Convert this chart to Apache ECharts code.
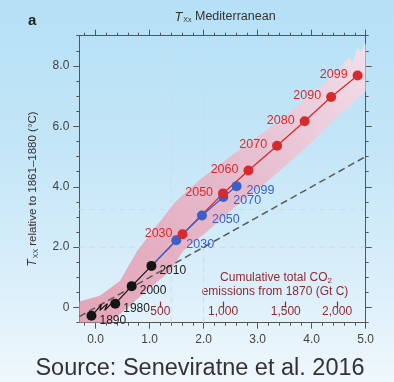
<!DOCTYPE html>
<html><head><meta charset="utf-8">
<script src="https://cdn.jsdelivr.net/npm/echarts@6/dist/echarts.min.js"></script>
<style>
html,body{margin:0;padding:0;}
#c{width:394px;height:382px;background:linear-gradient(180deg,#b5e0f6 0%,#c4e6f7 40%,#dbeffa 75%,#eff7fc 100%);}
</style>
</head><body><div id="c"></div><script>
// ---- data ----
const blackYears = ['1890','1980','2000','2010'];
const blackX = [-0.075, 0.365, 0.67, 1.035];
const blackY = [-0.27, 0.13, 0.71, 1.38];
// squiggle of the historical trace between 1890 and 1980
const blackTraceX = [-0.075, 0.02, 0.11, 0.08, 0.22, 0.17, 0.28, 0.365, 0.67, 1.035];
const blackTraceY = [-0.27, -0.09, 0.11, -0.09, 0.13, -0.09, 0.11, 0.13, 0.71, 1.38];

const redYears = ['2030','2050','2060','2070','2080','2090','2099'];
const redX = [1.61, 2.36, 2.83, 3.36, 3.87, 4.36, 4.85];
const redY = [2.43, 3.78, 4.54, 5.36, 6.17, 6.97, 7.68];

const blueYears = ['2030','2050','2070','2099'];
const blueX = [1.495, 1.97, 2.365, 2.61];
const blueY = [2.23, 3.05, 3.66, 4.02];

const bandUpperX = [-0.3, 0.08, 0.45, 0.77, 1.2, 1.48, 1.94, 2.5, 3.06, 3.62, 4.18, 4.55, 4.7, 4.75, 4.85, 4.9, 5.0];
const bandUpperY = [0.2, 0.39, 0.88, 1.87, 2.87, 3.5, 4.25, 5.01, 5.74, 6.5, 7.33, 8.0, 8.3, 8.1, 8.6, 8.45, 8.75];
const bandLowerX = [-0.3, 0.27, 0.88, 1.38, 1.62, 2.12, 2.69, 3.12, 3.62, 4.06, 4.5, 5.0];
const bandLowerY = [-0.5, -0.5, 0.45, 1.21, 1.87, 2.6, 3.5, 4.08, 4.85, 5.58, 6.35, 7.16];

const refVX = [1.4, 2.0];
const refHY = [2.0, 3.25];
const oneToOneX = [-0.3, 5.0];
const oneToOneY = [-0.3, 5.0];

const xTicks = [0, 1, 2, 3, 4, 5];
const xTickLabels = ['0.0', '1.0', '2.0', '3.0', '4.0', '5.0'];
const yTicks = [0, 2, 4, 6, 8];
const yTickLabels = ['0', '2.0', '4.0', '6.0', '8.0'];
const co2TickX = [1.2, 2.36, 3.52, 4.47];
const co2TickLabels = ['500', '1,000', '1,500', '2,000'];

// ---- chart ----
const X_MIN = -0.3, X_MAX = 5.0, Y_MIN = -0.5, Y_MAX = 9.0;
const minorX = []; for (let i = -1; i <= 25; i++) { const v = +(i * 0.2).toFixed(2); if (v >= X_MIN && v <= X_MAX && Math.abs(v - Math.round(v)) > 1e-6) minorX.push(v); }
const minorY = []; for (let i = -1; i <= 18; i++) { const v = i * 0.5; if (v % 2 !== 0) minorY.push(v); }

const FONT = 'Liberation Sans, Arial, Helvetica, sans-serif';
const AX = '#555';
const RED = '#d72a2e', BLUE = '#3b5fc6', BLK = '#151515', DARKRED = '#8e2a33';

function pickLabel(v, vals, labels) {
  let best = 0; for (let i = 1; i < vals.length; i++) if (Math.abs(vals[i] - v) < Math.abs(vals[best] - v)) best = i;
  return labels[best];
}
function xAx(pos, ticks, len, showLabel, showLine) {
  return {
    type: 'value', min: X_MIN, max: X_MAX, position: pos, gridIndex: 0,
    axisLine: { show: showLine, onZero: false, lineStyle: { color: AX, width: 1 } },
    axisTick: { show: true, customValues: ticks, length: len, inside: false, lineStyle: { color: AX, width: 1 } },
    axisLabel: showLabel ? { show: true, customValues: ticks, formatter: v => pickLabel(v, xTicks, xTickLabels), color: '#444', fontSize: 12, fontFamily: FONT, margin: 11 } : { show: false },
    splitLine: { show: false }
  };
}
function yAx(pos, ticks, len, showLabel, showLine) {
  return {
    type: 'value', min: Y_MIN, max: Y_MAX, position: pos, gridIndex: 0,
    axisLine: { show: showLine, onZero: false, lineStyle: { color: AX, width: 1 } },
    axisTick: { show: true, customValues: ticks, length: len, inside: false, lineStyle: { color: AX, width: 1 } },
    axisLabel: showLabel ? { show: true, customValues: ticks, formatter: v => pickLabel(v, yTicks, yTickLabels), color: '#444', fontSize: 12, fontFamily: FONT, margin: 10 } : { show: false },
    splitLine: { show: false }
  };
}

const zip = (a, b) => a.map((v, i) => [v, b[i]]);
const chart = echarts.init(document.getElementById('c'), null, { renderer: 'canvas' });

const scat = (xs, ys, names, color, pos, dist, off, size, z, fs) => ({
  type: 'scatter', xAxisIndex: 0, yAxisIndex: 0, symbolSize: size, z: z,
  itemStyle: { color: color, opacity: 1 },
  data: xs.map((x, i) => ({ value: [x, ys[i]], name: names[i] })),
  label: { show: true, position: pos, distance: dist, offset: off, formatter: p => p.name, color: color === BLK ? '#222' : color, fontSize: fs, fontFamily: FONT },
  emphasis: { disabled: true }, silent: true
});
const line = (data, color, width, type, z) => ({
  type: 'line', xAxisIndex: 0, yAxisIndex: 0, data: data, symbol: 'none', z: z, silent: true,
  lineStyle: { color: color, width: width, type: type }, emphasis: { disabled: true }
});

const series = [
  {
    type: 'custom', xAxisIndex: 0, yAxisIndex: 0, z: 1, silent: true, clip: true,
    data: [[0, 0]],
    renderItem: (params, api) => {
      const pts = zip(bandUpperX, bandUpperY).concat(zip(bandLowerX, bandLowerY).reverse()).map(p => api.coord(p));
      return {
        type: 'polygon', shape: { points: pts },
        style: { fill: new echarts.graphic.LinearGradient(0, 1, 1, 0, [
          { offset: 0, color: 'rgba(228,150,170,0.85)' },
          { offset: 0.5, color: 'rgba(236,172,190,0.78)' },
          { offset: 1, color: 'rgba(252,222,232,0.85)' }]) }
      };
    }
  }
];
refVX.forEach(x => series.push(line([[x, Y_MIN], [x, Y_MAX]], '#d8d8d8', 1, [6, 4], 0)));
refHY.forEach(y => series.push(line([[X_MIN, y], [X_MAX, y]], '#d8d8d8', 1, [6, 4], 0)));
series.push(line(zip(oneToOneX, oneToOneY), '#5a5a5a', 1.5, [7, 4], 3));
series.push(line(zip(blackTraceX, blackTraceY), BLK, 1.2, 'solid', 4));
series.push(line([[blackX[3], blackY[3]]].concat(zip(redX, redY)), RED, 1.3, 'solid', 4));
series.push(line([[blackX[3], blackY[3]]].concat(zip(blueX, blueY)), BLUE, 1.3, 'solid', 4));
series.push(scat(blackX, blackY, blackYears, BLK, 'right', 3, [0, 5], 10, 6, 12));
series.push(scat(blueX, blueY, blueYears, BLUE, 'right', 5, [0, 4], 10, 6, 12.5));
series.push(scat(redX, redY, redYears, RED, 'left', 5, [0, -1], 10, 6, 12.5));

chart.setOption({
  animation: false,
  backgroundColor: 'transparent',
  textStyle: { fontFamily: FONT },
  grid: { left: 79.3, right: 28.3, top: 35.7, bottom: 59.3, containLabel: false },
  xAxis: [
    xAx('bottom', xTicks, 6, true, true),
    xAx('bottom', minorX, 3, false, false),
    xAx('top', xTicks, 6, false, true),
    xAx('top', minorX, 3, false, false),
    {
      type: 'value', min: X_MIN, max: X_MAX, position: 'bottom', gridIndex: 0,
      axisLine: { show: false },
      axisTick: { show: true, inside: true, customValues: co2TickX, length: 6, lineStyle: { color: DARKRED, width: 1.2 } },
      axisLabel: { show: true, inside: true, customValues: co2TickX, formatter: v => pickLabel(v, co2TickX, co2TickLabels), color: DARKRED, fontSize: 12, fontFamily: FONT, margin: 5 },
      splitLine: { show: false }
    }
  ],
  yAxis: [
    yAx('left', yTicks, 6, true, true),
    yAx('left', minorY, 3, false, false),
    yAx('right', yTicks, 6, false, true),
    yAx('right', minorY, 3, false, false)
  ],
  graphic: [
    { type: 'text', left: 28, top: 13, style: { text: 'a', font: 'bold 15px ' + FONT, fill: '#222' } },
    { type: 'text', x: 225, y: 17, style: {
        text: '{t|T}{s|Xx}{m| Mediterranean}', align: 'center', verticalAlign: 'middle',
        rich: {
          t: { fontSize: 13, fontStyle: 'italic', fontFamily: FONT, fill: '#333', lineHeight: 16 },
          s: { fontSize: 7, fontFamily: FONT, fill: '#333', padding: [7, 0, 0, 1], lineHeight: 16 },
          m: { fontSize: 12.5, fontFamily: FONT, fill: '#333', lineHeight: 16 }
        } } },
    { type: 'text', x: 33, y: 189, rotation: Math.PI / 2, style: {
        text: '{t|T}{s|XX}{m| relative to 1861–1880 (°C)}', align: 'center', verticalAlign: 'middle',
        rich: {
          t: { fontSize: 12, fontStyle: 'italic', fontFamily: FONT, fill: '#333', lineHeight: 14 },
          s: { fontSize: 7, fontFamily: FONT, fill: '#333', padding: [6, 0, 0, 1], lineHeight: 14 },
          m: { fontSize: 11.5, fontFamily: FONT, fill: '#333', lineHeight: 14 }
        } } },
    { type: 'text', x: 276, y: 278, style: {
        text: '{m|Cumulative total CO}{s|2}', align: 'center', verticalAlign: 'middle',
        rich: {
          m: { fontSize: 12, fontFamily: FONT, fill: DARKRED, lineHeight: 14 },
          s: { fontSize: 8, fontFamily: FONT, fill: DARKRED, padding: [6, 0, 0, 0], lineHeight: 14 }
        } } },
    { type: 'text', x: 275, y: 292, style: { text: 'emissions from 1870 (Gt C)', align: 'center', verticalAlign: 'middle', font: '12px ' + FONT, fill: DARKRED } },
    { type: 'text', x: 200, y: 369, style: { text: 'Source: Seneviratne et al. 2016', align: 'center', verticalAlign: 'middle', font: '23.5px ' + FONT, fill: '#333' } }
  ],
  series: series
});
</script></body></html>
